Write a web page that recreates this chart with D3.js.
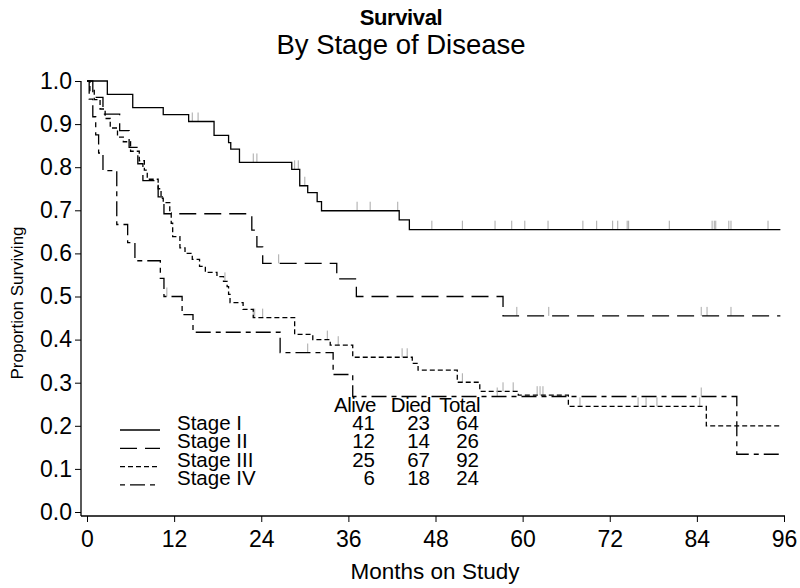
<!DOCTYPE html>
<html>
<head>
<meta charset="utf-8">
<script src="https://cdn.jsdelivr.net/npm/d3@7"></script>
<style>
body { margin: 0; background: #fff; }
svg { font-family: "Liberation Sans", Arial, sans-serif; }
</style>
</head>
<body>
<svg id="chart" width="800" height="588"></svg>
<script>
// Kaplan-Meier steps: [month, proportion surviving]
var stage1_steps = [[0,1],[2.8,0.969],[6.3,0.938],[10.5,0.922],[14,0.906],[17.5,0.874],
		    [19.5,0.857],[19.8,0.842],[21,0.811],[28.2,0.795],[29.3,0.757],[30.4,0.741],
		    [31.7,0.72],[32.3,0.699],[43,0.678],[44.4,0.655]];
var stage2_steps = [[0,1],[0.8,0.962],[2.2,0.923],[4.5,0.885],[5.8,0.846],[7,0.808],
		    [7.7,0.769],[9.8,0.731],[10.6,0.692],[22.7,0.654],[23.4,0.615],[24.2,0.577],
		    [34.4,0.541],[37.1,0.5],[57.3,0.455]];
var stage3_steps = [[0,1],[0.4,0.978],[1,0.957],[1.8,0.935],[2.5,0.913],[3.2,0.891],
		    [4.2,0.87],[5,0.859],[6,0.837],[7.2,0.815],[7.9,0.793],[8.3,0.772],
		    [9.8,0.75],[10.2,0.728],[10.5,0.718],[11.4,0.694],[11.6,0.67],[11.8,0.639],
		    [12.8,0.613],[13.5,0.6],[14.5,0.586],[15.5,0.57],[16.3,0.556],[17.9,0.546],
		    [18.8,0.535],[19.3,0.523],[19.5,0.505],[19.7,0.486],[21.5,0.47],[22.9,0.451],
		    [28.6,0.412],[31.1,0.4],[33.5,0.387],[36.6,0.359],[44.8,0.345],[45.6,0.329],
		    [51,0.301],[54.1,0.28],[59.4,0.271],[66.3,0.245],[85.3,0.2]];
var stage4_steps = [[0,1],[0.3,0.958],[0.8,0.917],[1.2,0.875],[1.6,0.833],[2.2,0.792],
		    [4.1,0.667],[5.6,0.625],[6.6,0.583],[10.1,0.542],[10.6,0.5],[13.1,0.458],
		    [14.6,0.417],[26.6,0.37],[33.9,0.319],[36.6,0.268],[89.5,0.134]];

// censored observations (months)
var stage1_censor = [14.5, 15.3, 22.9, 23.4, 28.6, 29.1, 30.0, 37.2, 39.0, 42.8, 47.5, 51.7,
		     56.2, 58.5, 60.3, 63.5, 68.3, 70.2, 72.4, 73.1, 74.4, 74.6, 80.2, 86.1,
		     86.4, 86.6, 88.4, 88.7, 93.8];
var stage2_censor = [26.4, 59.2, 63.6, 84.6, 85.4, 88.7];
var stage3_censor = [19.0, 22.9, 23.1, 24.2, 33.1, 34.6, 43.4, 44.1, 51.7, 57.3, 58.7,
		     62.0, 62.4, 62.8, 67.9, 75.9, 77.0, 78.5, 84.4];
var stage4_censor = [11.0, 30.4, 56.5, 84.6];

var last_month = 95.5;
var month_ticks = [0, 12, 24, 36, 48, 60, 72, 84, 96];
var surv_ticks = [0, 0.1, 0.2, 0.3, 0.4, 0.5, 0.6, 0.7, 0.8, 0.9, 1.0];

var stage_names = ["Stage I", "Stage II", "Stage III", "Stage IV"];
var alive = [41, 12, 25, 6];
var died = [23, 14, 67, 18];
var total = [64, 26, 92, 24];
var table_head = ["Alive", "Died", "Total"];

var dashes = ["none", "17,8", "5,3", "15,5,5,5"];
var legend_offset = [0, 0, 0, 20];

var svg = d3.select("#chart");
var scales = {
    x: d3.scaleLinear().domain([0, 96]).range([87, 784]),
    y: d3.scaleLinear().domain([0, 1]).range([512, 81])
};
var axis_y_pos = 516, axis_x_pos = 81;

function surv_at(steps, t) {
    var i = d3.bisector(function(d) { return d[0]; }).right(steps, t) - 1;
    return steps[Math.max(i, 0)][1];
}

var draw_line = d3.line()
    .x(function(d) { return scales.x(d[0]); })
    .y(function(d) { return scales.y(d[1]); })
    .curve(d3.curveStepAfter);

// titles
svg.append("text")
    .attr("x", 401).attr("y", 25)
    .attr("text-anchor", "middle")
    .style("font-size", "22px").style("font-weight", "bold")
    .style("letter-spacing", "-0.4px")
    .text("Survival");
svg.append("text")
    .attr("x", 401).attr("y", 54)
    .attr("text-anchor", "middle")
    .style("font-size", "27.5px")
    .text("By Stage of Disease");

// axes
var xg = svg.append("g").attr("transform", "translate(0," + axis_y_pos + ")");
xg.call(d3.axisBottom(scales.x).tickValues(d3.range(0, 97, 2)).tickSize(3).tickFormat(""));
xg.call(d3.axisBottom(scales.x).tickValues(month_ticks).tickSize(6).tickPadding(9));
xg.selectAll(".domain").remove();
xg.selectAll("text").style("font-size", "23px").attr("fill", "#000");
xg.selectAll("line").attr("stroke", "#000");
xg.append("line")
    .attr("x1", axis_x_pos).attr("x2", scales.x(96) + 1)
    .attr("stroke", "#000").attr("stroke-width", 1.3);

var yg = svg.append("g").attr("transform", "translate(" + axis_x_pos + ",0)");
yg.call(d3.axisLeft(scales.y).tickValues(d3.range(0, 1.001, 0.02)).tickSize(3).tickFormat(""));
yg.call(d3.axisLeft(scales.y).tickValues(surv_ticks).tickSize(6).tickPadding(3)
	.tickFormat(d3.format(".1f")));
yg.selectAll(".domain").remove();
yg.selectAll("text").style("font-size", "23px").attr("fill", "#000");
yg.selectAll("line").attr("stroke", "#000");
yg.append("line")
    .attr("y1", scales.y(1)).attr("y2", axis_y_pos)
    .attr("stroke", "#000").attr("stroke-width", 1.3);

svg.append("text")
    .attr("x", 435).attr("y", 579)
    .attr("text-anchor", "middle")
    .style("font-size", "22.5px")
    .text("Months on Study");
svg.append("text")
    .attr("transform", "translate(23,303) rotate(-90)")
    .attr("text-anchor", "middle")
    .style("font-size", "17px")
    .text("Proportion Surviving");

// curves
var curves = [[stage1_steps, stage1_censor], [stage2_steps, stage2_censor],
	      [stage3_steps, stage3_censor], [stage4_steps, stage4_censor]];

curves.forEach(function(c, k) {
    var steps = c[0];
    var pts = steps.concat([[last_month, steps[steps.length - 1][1]]]);
    svg.append("g").selectAll("path.cens")
	.data(c[1])
	.enter().append("path")
	.attr("class", "cens")
	.attr("d", function(t) {
	    var yy = scales.y(surv_at(steps, t));
	    return "M" + scales.x(t) + "," + yy + "V" + (yy - 9);
	})
	.style("stroke", "#a8a8a8")
	.style("stroke-width", 1);
    svg.append("path")
	.attr("d", draw_line(pts))
	.style("fill", "none")
	.style("stroke", "#000")
	.style("stroke-width", 1.3)
	.style("stroke-dasharray", dashes[k]);
});

// legend with counts
var leg = svg.append("g").style("font-size", "20.5px");
var row_y = function(i) { return 430 + i * 18.3; };
var col_x = [376, 431, 480];

leg.selectAll("text.head")
    .data(table_head)
    .enter().append("text")
    .attr("class", "head")
    .attr("x", function(d, i) { return col_x[i]; })
    .attr("y", row_y(-1))
    .attr("text-anchor", "end")
    .style("letter-spacing", "-0.5px")
    .text(function(d) { return d; });

stage_names.forEach(function(name, i) {
    leg.append("line")
	.attr("x1", 120).attr("x2", 160)
	.attr("y1", row_y(i)).attr("y2", row_y(i))
	.style("stroke", "#000")
	.style("stroke-width", 1.3)
	.style("stroke-dasharray", dashes[i])
	.style("stroke-dashoffset", legend_offset[i]);
    leg.append("text")
	.attr("x", 177).attr("y", row_y(i))
	.text(name);
    [alive[i], died[i], total[i]].forEach(function(v, j) {
	leg.append("text")
	    .attr("x", col_x[j] - 1).attr("y", row_y(i))
	    .attr("text-anchor", "end")
	    .text(v);
    });
});
</script>
</body>
</html>
